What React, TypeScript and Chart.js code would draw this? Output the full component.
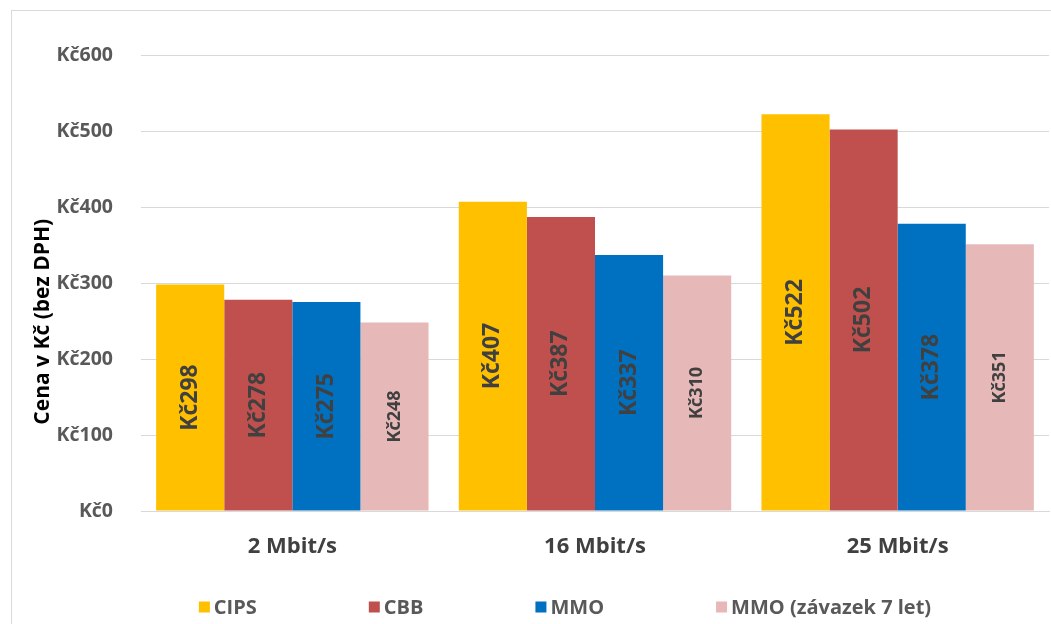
import React, { useEffect, useRef } from 'react';
import { Chart, registerables } from 'chart.js';

Chart.register(...registerables);

const categories = ['2 Mbit/s', '16 Mbit/s', '25 Mbit/s'];
const seriesNames = ['CIPS', 'CBB', 'MMO', 'MMO (závazek 7 let)'];
const cipsValues = [298, 407, 522];
const cbbValues = [278, 387, 502];
const mmoValues = [275, 337, 378];
const mmo7Values = [248, 310, 351];
const yMin = 0;
const yMax = 600;
const yStep = 100;
const currencyPrefix = 'Kč';
const yAxisTitle = 'Cena v Kč (bez DPH)';

const seriesColors = ['#FFC000', '#C0504D', '#0070C0', '#E6B9B8'];
const labelSizes = [23, 23, 23, 18];
const FONT = '"Open Sans", Lato, sans-serif';

const W = 1051;
const H = 624;

export default function App() {
  const canvasRef = useRef<HTMLCanvasElement | null>(null);

  useEffect(() => {
    const canvas = canvasRef.current;
    if (!canvas) return;

    const valueLabels = {
      id: 'valueLabels',
      afterDatasetsDraw(chart: any) {
        const ctx = chart.ctx;
        chart.data.datasets.forEach((ds: any, i: number) => {
          const meta = chart.getDatasetMeta(i);
          meta.data.forEach((bar: any, j: number) => {
            const p = bar.getProps(['x', 'y', 'base'], true);
            const cy = (p.y + p.base) / 2;
            ctx.save();
            ctx.translate(p.x, cy);
            ctx.rotate(-Math.PI / 2);
            ctx.font = `bold ${labelSizes[i]}px ${FONT}`;
            ctx.fillStyle = '#404040';
            ctx.textAlign = 'center';
            ctx.textBaseline = 'middle';
            ctx.fillText(currencyPrefix + ds.data[j], 0, 0);
            ctx.restore();
          });
        });
      },
    };

    const axisTitle = {
      id: 'axisTitle',
      afterDraw(chart: any) {
        const ctx = chart.ctx;
        const area = chart.chartArea;
        ctx.save();
        ctx.translate(43, area.top + (area.bottom - area.top) * 0.585);
        ctx.rotate(-Math.PI / 2);
        ctx.font = `bold 21px ${FONT}`;
        ctx.fillStyle = '#000000';
        ctx.textAlign = 'center';
        ctx.textBaseline = 'middle';
        ctx.fillText(yAxisTitle, 0, 0);
        ctx.restore();
      },
    };

    const bottomLegend = {
      id: 'bottomLegend',
      afterDraw(chart: any) {
        const ctx = chart.ctx;
        const box = 11;
        const boxGap = 4;
        const gap = 112;
        const y = 607;
        ctx.save();
        ctx.font = `bold 20px ${FONT}`;
        const widths = seriesNames.map((n) => box + boxGap + ctx.measureText(n).width);
        const total = widths.reduce((a, b) => a + b, 0) + gap * (widths.length - 1);
        let x = 565 - total / 2;
        seriesNames.forEach((n, i) => {
          ctx.fillStyle = seriesColors[i];
          ctx.fillRect(x, y - box / 2, box, box);
          ctx.fillStyle = '#595959';
          ctx.textAlign = 'left';
          ctx.textBaseline = 'middle';
          ctx.fillText(n, x + box + boxGap, y + 1);
          x += widths[i] + gap;
        });
        ctx.restore();
      },
    };

    const chart = new Chart(canvas, {
      type: 'bar',
      data: {
        labels: categories,
        datasets: [cipsValues, cbbValues, mmoValues, mmo7Values].map((d, i) => ({
          label: seriesNames[i],
          data: d,
          backgroundColor: seriesColors[i],
          borderWidth: 0,
          categoryPercentage: 0.9,
          barPercentage: 1,
        })),
      },
      options: {
        responsive: false,
        animation: false,
        layout: { padding: { left: 20, right: 2, top: 55, bottom: 0 } },
        plugins: {
          legend: { display: false },
          tooltip: { enabled: false },
        },
        scales: {
          x: {
            grid: { display: false, drawTicks: false },
            border: { display: true, color: '#D9D9D9', width: 1 },
            ticks: {
              padding: 23,
              color: '#404040',
              font: { family: FONT, size: 22, weight: 'bold' },
            },
            afterFit(scale: any) {
              scale.height = 113;
            },
          },
          y: {
            min: yMin,
            max: yMax,
            grid: { color: '#D9D9D9', lineWidth: 1, drawTicks: false },
            border: { display: false },
            ticks: {
              stepSize: yStep,
              padding: 28,
              crossAlign: 'near',
              color: '#595959',
              font: { family: FONT, size: 19.5, weight: 'bold' },
              callback: (v: any) => currencyPrefix + v,
            },
            afterFit(scale: any) {
              scale.width = 121;
            },
          },
        },
      },
      plugins: [valueLabels, axisTitle, bottomLegend],
    });

    return () => chart.destroy();
  }, []);

  return (
    <div
      style={{
        position: 'fixed',
        left: 0,
        top: 0,
        width: W,
        height: H,
        overflow: 'hidden',
        background: '#FFFFFF',
      }}
    >
      <div
        style={{
          position: 'absolute',
          left: 11,
          top: 10,
          width: 1100,
          height: 700,
          border: '1px solid #D9D9D9',
        }}
      />
      <canvas
        ref={canvasRef}
        width={W}
        height={H}
        style={{ position: 'absolute', left: 0, top: 0, width: W, height: H }}
      />
    </div>
  );
}
